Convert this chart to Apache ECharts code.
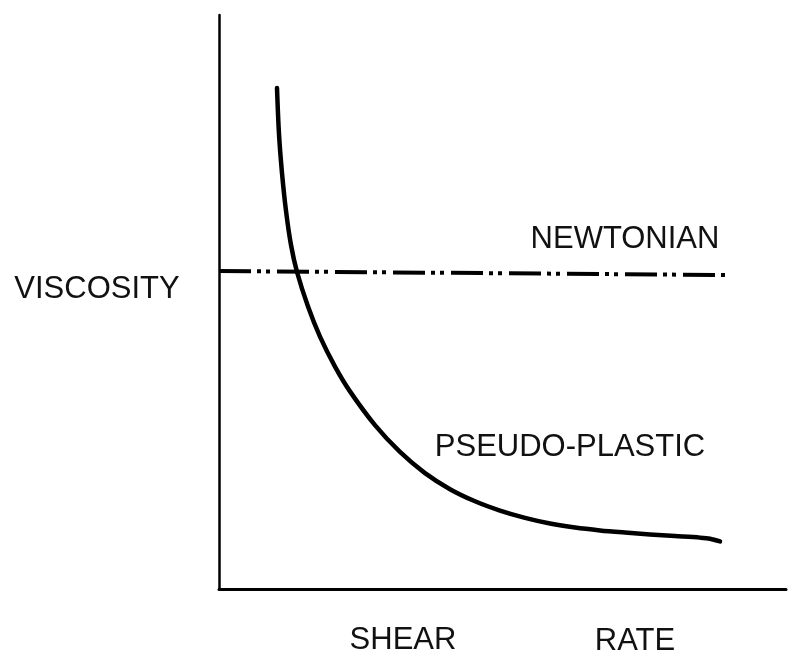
<!DOCTYPE html>
<html>
<head>
<meta charset="utf-8">
<script src="https://cdn.jsdelivr.net/npm/echarts@6/dist/echarts.min.js"></script>
<style>
  html, body { margin: 0; padding: 0; background: #fff; }
  #chart { width: 792px; height: 662px; }
</style>
</head>
<body>
<div id="chart"></div>
<script>
// shear rate (arbitrary units, 0-100) and viscosity (arbitrary units, 0-100)
const pseudoX = [10.23, 10.58, 11.11, 11.82, 12.70, 13.76, 15.70, 17.81, 20.46, 23.10, 27.51, 31.92, 36.33, 40.74, 45.15, 49.56, 53.97, 58.38, 62.79, 67.20, 71.60, 76.01, 80.42, 84.83, 86.60, 88.36]
const pseudoY = [87.28, 79.27, 72.47, 65.85, 59.93, 55.23, 49.20, 43.97, 38.75, 34.43, 28.55, 23.87, 20.19, 17.39, 15.28, 13.66, 12.39, 11.41, 10.71, 10.21, 9.83, 9.49, 9.22, 8.95, 8.76, 8.28]
const newtonX = [0, 89.4]
const newtonY = [55.4, 54.7]

const labelFont = '"Liberation Sans", Arial, sans-serif'

function pairs (xs, ys) {
  return xs.map((x, i) => [x, ys[i]])
}

function label (text, x, y) {
  return {
    type: 'text',
    x: x,
    y: y,
    style: {
      text: text,
      fill: '#111',
      font: '31px ' + labelFont,
      textAlign: 'center',
      textVerticalAlign: 'middle'
    }
  }
}

const chart = echarts.init(document.getElementById('chart'))
const option = {
  animation: false,
  backgroundColor: '#fff',
  grid: {
    left: 219,
    right: 6,
    top: 15,
    bottom: 73,
    containLabel: false
  },
  xAxis: {
    type: 'value',
    min: 0,
    max: 100,
    axisLine: { show: true, onZero: false, lineStyle: { color: '#000', width: 3 } },
    axisTick: { show: false },
    axisLabel: { show: false },
    splitLine: { show: false }
  },
  yAxis: {
    type: 'value',
    min: 0,
    max: 100,
    axisLine: { show: true, onZero: false, lineStyle: { color: '#000', width: 2.5 } },
    axisTick: { show: false },
    axisLabel: { show: false },
    splitLine: { show: false }
  },
  series: [
    {
      name: 'NEWTONIAN',
      type: 'line',
      data: pairs(newtonX, newtonY),
      symbol: 'none',
      lineStyle: { color: '#000', width: 4, type: [32, 6, 4, 5, 4, 7], cap: 'butt' }
    },
    {
      name: 'PSEUDO-PLASTIC',
      type: 'line',
      data: pairs(pseudoX, pseudoY),
      symbol: 'none',
      smooth: 0.3,
      lineStyle: { color: '#000', width: 4.5, join: 'round', cap: 'round' }
    }
  ],
  graphic: [
    label('VISCOSITY', 97, 289),
    label('NEWTONIAN', 625, 239),
    label('PSEUDO-PLASTIC', 570, 447),
    label('SHEAR', 403, 640),
    label('RATE', 635, 641)
  ]
}
chart.setOption(option)
</script>
</body>
</html>
